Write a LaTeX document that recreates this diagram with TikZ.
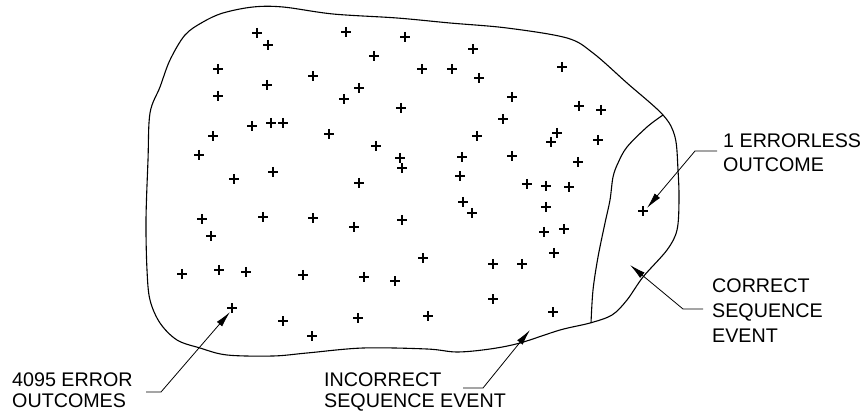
\documentclass[tikz,border=0pt]{standalone}
\usepackage{fontspec}
\setmainfont{Liberation Sans}
\usetikzlibrary{arrows.meta}
\begin{document}
\begin{tikzpicture}[x=1pt,y=-1pt,
  outline/.style={line width=1.1pt, line join=round},
  plusmark/.style={line width=1.1pt},
  leader/.style={line width=0.8pt, -{Latex[length=16pt,width=7pt]}},
  lbl/.style={anchor=base west, inner sep=0pt, font=\fontsize{19.7}{24}\selectfont}]
\useasboundingbox (0,0) rectangle (866,411);
% outer region
\draw[outline] plot[smooth cycle, tension=0.55] coordinates {
 (150,113) (160,87) (170,60) (185,35) (203,22) (223,13) (253,7) (283,7)
 (333,14) (397,18) (450,23) (507,28) (567,38) (593,53) (627,83) (663,115)
 (675,137) (678,170) (679,200) (677,230) (667,250) (643,277) (627,300)
 (612,315) (590,323) (560,330) (520,343) (490,349) (457,352) (427,349)
 (363,348) (307,353) (273,356) (227,355) (200,348) (177,340) (160,323)
 (150,300) (147,270) (146,220) (148,160)};
% correct sequence boundary
\draw[outline] plot[smooth, tension=0.55] coordinates {
 (663,115) (647,127) (627,147) (618,163) (613,177) (610,200) (605,223)
 (598,257) (593,290) (591,323)};
% outcomes
\foreach \px/\py in {
 257/33, 268/45, 346/32, 405/37, 374/56, 473/49, 218/69, 267/85, 313/76,
 422/69, 452/69, 479/78, 562/67, 218/96, 359/88, 344/99, 401/108, 512/97,
 503/119, 579/106, 601/110, 252/126, 271/123, 283/123, 329/134, 213/136,
 199/155, 376/146, 477/136, 557/133, 551/142, 598/140, 400/158, 402/168,
 462/157, 512/156, 578/162, 460/176, 234/179, 273/172, 359/183, 527/184,
 546/186, 569/187, 463/202, 472/213, 546/207, 202/219, 211/236, 263/217,
 313/218, 354/227, 402/220, 544/232, 564/229, 554/253, 423/258, 182/274,
 219/270, 246/272, 303/275, 364/277, 493/264, 522/264, 395/281, 493/299,
 553/312, 428/316, 232/308, 283/321, 358/318, 312/336, 643/211}
 \draw[plusmark] (\px,\py) +(-5,0) -- +(5,0) +(0,-5) -- +(0,5);
% labels
\node[lbl] (t1a) at (12,386) {4095 ERROR};
\node[lbl] (t1b) at (12,407) {OUTCOMES};
\node[lbl] (t2a) at (324,386) {INCORRECT};
\node[lbl] (t2b) at (324,407) {SEQUENCE EVENT};
\node[lbl] (t3a) at (723,148) {1 ERRORLESS};
\node[lbl] (t3b) at (723,172) {OUTCOME};
\node[lbl] (t4a) at (712,292) {CORRECT};
\node[lbl] (t4b) at (712,317) {SEQUENCE};
\node[lbl] (t4c) at (712,342) {EVENT};
% leader points
\coordinate (s1) at (146,392); \coordinate (k1) at (161,392); \coordinate (p1) at (230,312);
\coordinate (s2) at (463,388); \coordinate (k2) at (483,388); \coordinate (p2) at (530,330);
\coordinate (s3) at (717,151); \coordinate (k3) at (695,151); \coordinate (p3) at (647,208);
\coordinate (s4) at (703,309); \coordinate (k4) at (683,309); \coordinate (p4) at (630,265);
\draw[leader] (s1) -- (k1) -- (p1);
\draw[leader] (s2) -- (k2) -- (p2);
\draw[leader] (s3) -- (k3) -- (p3);
\draw[leader] (s4) -- (k4) -- (p4);
\end{tikzpicture}
\end{document}
